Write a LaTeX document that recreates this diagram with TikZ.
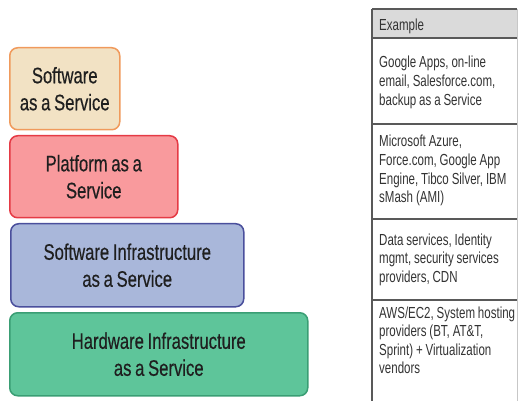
\documentclass[tikz,border=0pt]{standalone}
\usepackage{fontspec}
\newfontfamily\narrowsf[FakeStretch=0.72, WordSpace=0.9]{Liberation Sans}
\newfontfamily\layersf[FakeStretch=0.74, WordSpace=0.8, FakeBold=0.4]{Liberation Sans}

\definecolor{saasfill}{HTML}{F2E2C4}  \definecolor{saasline}{HTML}{F09A5C}
\definecolor{paasfill}{HTML}{F99A9D}  \definecolor{paasline}{HTML}{E53A45}
\definecolor{siasfill}{HTML}{A9B7DA}  \definecolor{siasline}{HTML}{4A4F9C}
\definecolor{hiasfill}{HTML}{5EC59A}  \definecolor{hiasline}{HTML}{3A9E74}
\definecolor{headfill}{HTML}{DADADA}

\begin{document}
\begin{tikzpicture}[x=1pt, y=-1pt,
	layer/.style={draw, line width=1.5pt, rounded corners=8pt, anchor=north west,
		inner sep=0pt, align=center, text=black!88,
		font=\layersf\fontsize{22.5}{27}\selectfont},
	cell/.style={anchor=base west, inner sep=0pt, align=flush left, text width=150pt,
		text=black!80, font=\narrowsf\fontsize{16}{18.6}\selectfont\frenchspacing},
	rule/.style={draw=black!65, line width=1.4pt}]
	\useasboundingbox (0,0) rectangle (520,401);

	% the stack of service layers
	\node[layer, draw=saasline, fill=saasfill, minimum width=110pt, minimum height=82pt]
		(saas) at (9,47) {Software\\as a Service};
	\node[layer, draw=paasline, fill=paasfill, minimum width=168pt, minimum height=82pt]
		(paas) at (9,135) {Platform as a\\Service};
	\node[layer, draw=siasline, fill=siasfill, minimum width=233pt, minimum height=83pt]
		(sias) at (10,223) {Software Infrastructure\\as a Service};
	\node[layer, draw=hiasline, fill=hiasfill, minimum width=298pt, minimum height=83pt]
		(hias) at (9,312) {Hardware Infrastructure\\as a Service};

	% table of examples
	\fill[headfill] (372,9) rectangle (517,38);
	\draw[black!22, line width=0.8pt] (517,9) -- (517,401);
	\foreach \y in {9,38,124,219,300}
	{
		\draw[rule] (372,\y) -- (517,\y);
	}
	\draw[rule] (372,9) -- (372,401);

	\node[cell] (head) at (379,31) {Example};
	\node[cell] (ex1) at (379,68) {Google Apps, on-line\\email, Salesforce.com,\\backup as a Service};
	\node[cell] (ex2) at (379,147) {Microsoft Azure,\\Force.com, Google App\\Engine, Tibco Silver, IBM\\sMash (AMI)};
	\node[cell] (ex3) at (379,245) {Data services, Identity\\mgmt, security services\\providers, CDN};
	\node[cell] (ex4) at (379,318) {AWS/EC2, System hosting\\providers (BT, AT\&T,\\Sprint) + Virtualization\\vendors};
\end{tikzpicture}
\end{document}
